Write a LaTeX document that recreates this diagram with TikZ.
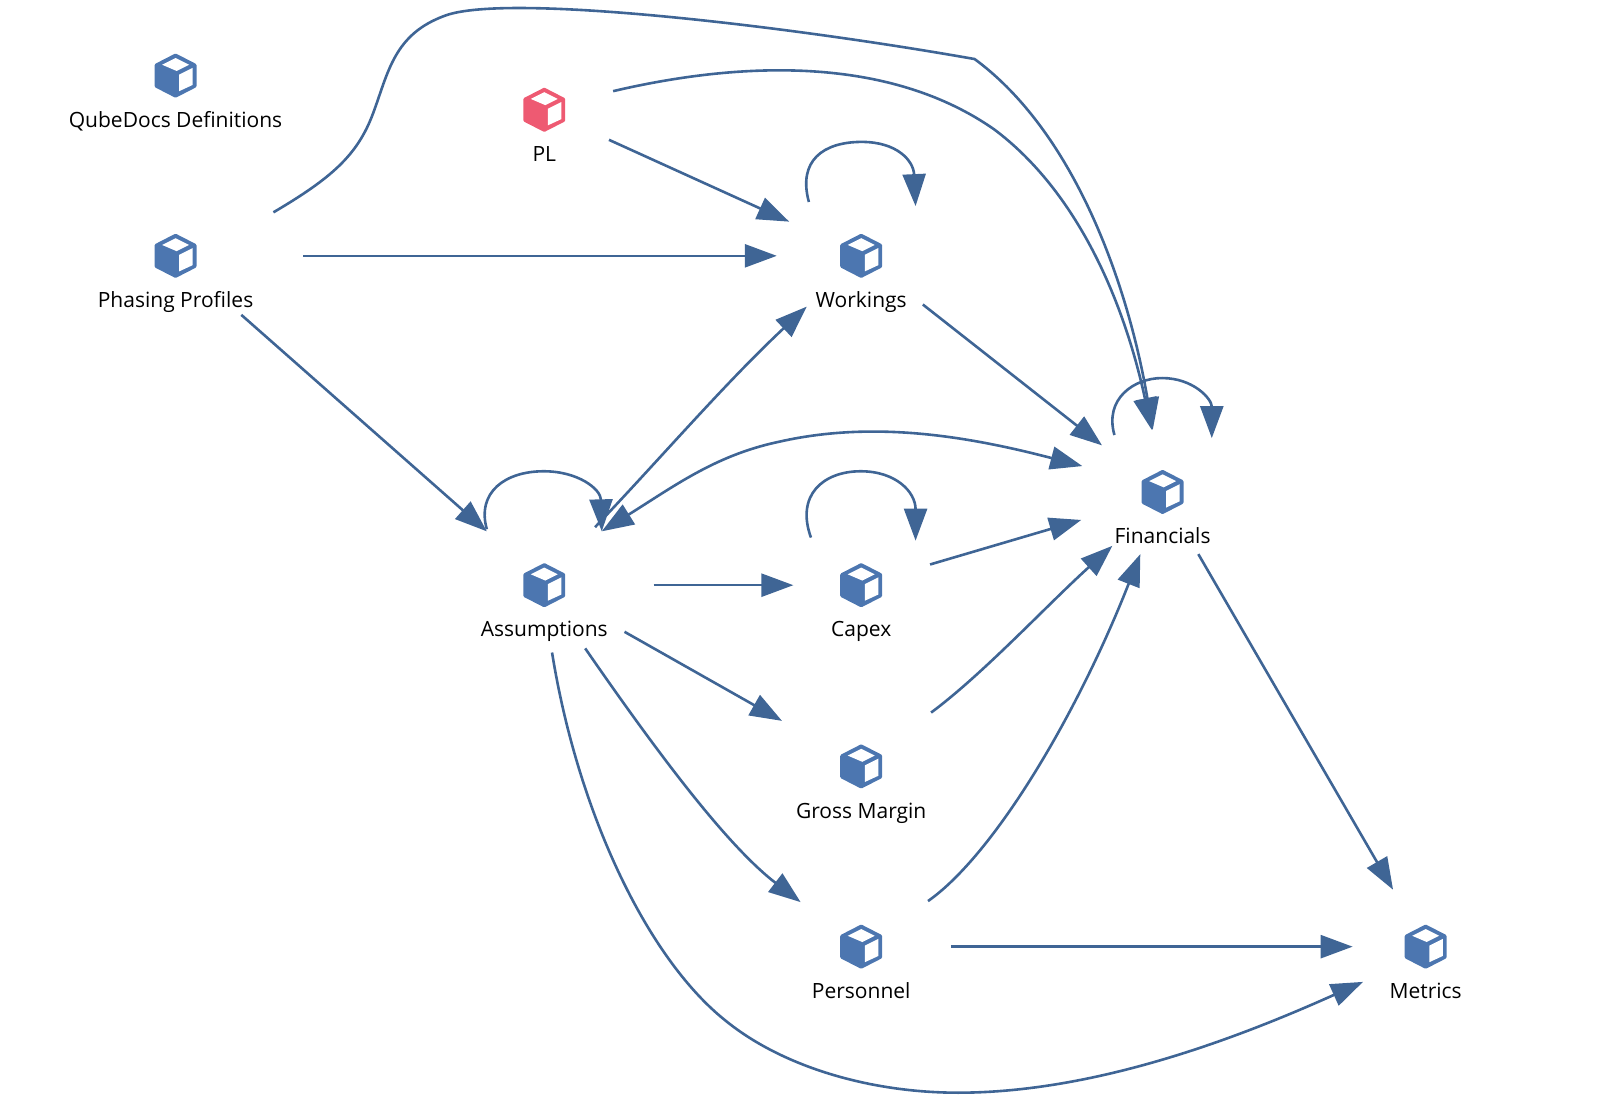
\documentclass[tikz,border=0pt]{standalone}
\usepackage{fontspec}
\setmainfont{Open Sans}
\usetikzlibrary{arrows.meta}
\definecolor{edgeblue}{HTML}{3F6595}
\definecolor{cubeblue}{HTML}{4C76B0}
\definecolor{cubered}{HTML}{EE5A72}
\tikzset{
  x=0.5179pt,y=-0.5179pt,
  conn/.style={draw=edgeblue,line width=1.3pt,-{Triangle[length=16pt,width=11.5pt]}},
  connboth/.style={draw=edgeblue,line width=1.3pt,{Triangle[length=16pt,width=11.5pt]}-{Triangle[length=16pt,width=11.5pt]}},
  lbl/.style={font=\fontsize{10.5pt}{12pt}\selectfont,text=black,inner sep=0pt,anchor=base},
  pics/cube/.style={code={
    \fill[#1,line join=round,line width=1.8pt,draw=#1] (-18.5,-10) -- (0,-19.5) -- (18.5,-10) -- (18.5,10) -- (0,19.5) -- (-18.5,10) -- cycle;
    \fill[white] (-13,-10.5) -- (0,-17) -- (13,-10.5) -- (1,-4.5) -- cycle;
    \fill[white] (3.5,-1) -- (16.5,-7.5) -- (16.5,9) -- (3.5,15) -- cycle;
  }},
}
\begin{document}
\begin{tikzpicture}
\useasboundingbox (0,0) rectangle (1568,1065.9);
% nodes
\foreach \nm/\px/\py/\col/\txt in {
  qd/169.5/73/cubeblue/QubeDocs Definitions,
  pl/525.5/106/cubered/PL,
  ph/169.5/247/cubeblue/Phasing Profiles,
  wk/831.5/247/cubeblue/Workings,
  as/525.5/565/cubeblue/Assumptions,
  cx/831.5/565/cubeblue/Capex,
  gm/831.5/740/cubeblue/Gross Margin,
  pn/831.5/914/cubeblue/Personnel,
  fn/1122.5/475/cubeblue/Financials,
  mt/1376.5/914/cubeblue/Metrics}{
  \coordinate (\nm) at (\px,\py);
  \pic at (\nm) {cube=\col};
  \node[lbl] (\nm-label) at (\px,\py+50) {\txt};
}
% connectors
\draw[conn] ([shift={(94.5,-42)}]ph) .. controls (320,172) and (345,150) .. (360,110) .. controls (375,70) and (380,33) .. (430,15) .. controls (490,-7) and (760,25) .. (941,57) .. controls (1040,130) and (1090,280) .. ([shift={(-9.5,-60)}]fn);
\draw[conn] ([shift={(66.5,-18)}]pl) .. controls (720,58) and (860,55) .. (960,125) .. controls (1040,185) and (1085,290) .. ([shift={(-10.5,-60)}]fn);
\draw[conn] ([shift={(62.5,29)}]pl) -- ([shift={(-69.5,-33)}]wk);
\draw[conn] ([shift={(-50.5,-52)}]wk) .. controls (770,155) and (795,137) .. (832,137) .. controls (866,137) and (882,155) .. ([shift={(52.5,-48)}]wk);
\draw[conn] ([shift={(123.5,0)}]ph) -- ([shift={(-81.5,0)}]wk);
\draw[conn] ([shift={(63.5,57)}]ph) -- ([shift={(-55.5,-52)}]as);
\draw[conn] ([shift={(59.5,47)}]wk) -- ([shift={(-58.5,-45)}]fn);
\draw[conn] ([shift={(49,-56)}]as) .. controls (640,440) and (700,370) .. ([shift={(-52.5,49)}]wk);
\draw[connboth] ([shift={(55.5,-52)}]as) .. controls (650,470) and (690,440) .. (750,427) .. controls (840,406) and (930,420) .. ([shift={(-77.5,-25)}]fn);
\draw[conn] ([shift={(-55.5,-54)}]as) .. controls (460,475) and (488,455) .. (525,455) .. controls (558,455) and (580,472) .. ([shift={(55.5,-52)}]as);
\draw[conn] ([shift={(105.5,0)}]as) -- ([shift={(-65.5,0)}]cx);
\draw[conn] ([shift={(-48.5,-46)}]cx) .. controls (768,478) and (795,455) .. (831,455) .. controls (865,455) and (884,475) .. ([shift={(52.5,-43)}]cx);
\draw[conn] ([shift={(66.5,-20)}]cx) -- ([shift={(-78.5,27)}]fn);
\draw[conn] ([shift={(77.5,45)}]as) -- ([shift={(-76.5,-44)}]gm);
\draw[conn] ([shift={(67.5,-52)}]gm) .. controls (950,650) and (1010,585) .. ([shift={(-48.5,52)}]fn);
\draw[conn] ([shift={(39.5,61)}]as) .. controls (630,720) and (700,815) .. ([shift={(-58.5,-43)}]pn);
\draw[conn] ([shift={(64.5,-44)}]pn) .. controls (960,825) and (1040,690) .. ([shift={(-21.5,60)}]fn);
\draw[conn] ([shift={(86.5,0)}]pn) -- ([shift={(-70.5,0)}]mt);
\draw[conn] ([shift={(34.5,60)}]fn) -- ([shift={(-31.5,-55)}]mt);
\draw[conn] ([shift={(7.5,65)}]as) .. controls (558,785) and (625,925) .. (700,985) .. controls (755,1030) and (840,1055) .. (925,1055) .. controls (1060,1055) and (1200,1000) .. ([shift={(-60.5,34)}]mt);
\draw[conn] ([shift={(-46.5,-55)}]fn) .. controls (1066,385) and (1095,365) .. (1122,365) .. controls (1152,365) and (1170,385) .. ([shift={(47.5,-52)}]fn);
\end{tikzpicture}
\end{document}
